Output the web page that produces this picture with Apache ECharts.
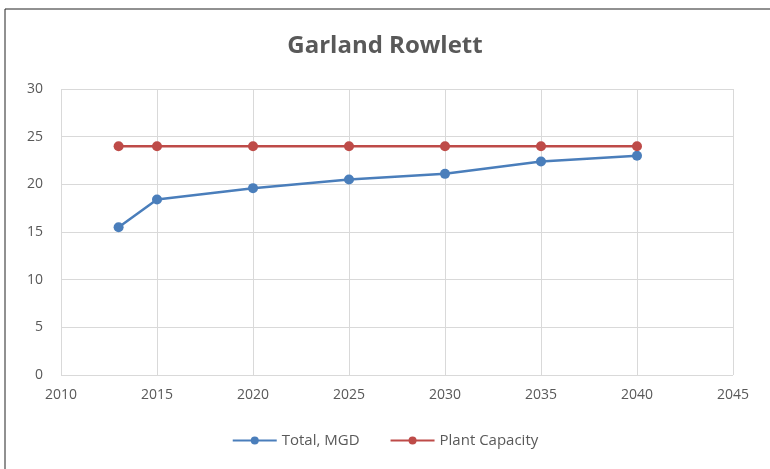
<!DOCTYPE html>
<html>
<head>
<meta charset="utf-8">
<script src="https://cdn.jsdelivr.net/npm/echarts@6/dist/echarts.min.js"></script>
<style>
  html, body { margin: 0; padding: 0; background: #ffffff; }
  #chart { width: 770px; height: 469px; }
</style>
</head>
<body>
<div id="chart"></div>
<script>
// Years and flows (million gallons per day)
const years = [2013, 2015, 2020, 2025, 2030, 2035, 2040];
const totalMGD = [15.5, 18.4, 19.6, 20.5, 21.1, 22.4, 23.0];
const plantCapacity = [24, 24, 24, 24, 24, 24, 24];
const seriesNames = ['Total, MGD', 'Plant Capacity'];
const chartTitle = 'Garland Rowlett';

const font = '"Open Sans", Lato, sans-serif';
const textColor = '#595959';
const gridColor = '#d9d9d9';

const chart = echarts.init(document.getElementById('chart'), null, { renderer: 'canvas' });

const pairs = (ys) => years.map((x, i) => [x, ys[i]]);

chart.setOption({
  animation: false,
  backgroundColor: '#ffffff',
  title: {
    text: chartTitle,
    left: 'center',
    top: 29,
    textStyle: { fontFamily: font, fontSize: 24, fontWeight: 'bold', color: textColor }
  },
  graphic: [{
    type: 'rect',
    shape: { x: 5, y: 9, width: 800, height: 500 },
    style: { fill: 'none', stroke: '#222222', lineWidth: 1 },
    silent: true
  }],
  grid: { left: 61, right: 37, top: 89, bottom: 94, containLabel: false },
  xAxis: {
    type: 'value',
    min: 2010, max: 2045, interval: 5,
    axisLine: { show: false },
    axisTick: { show: false },
    splitLine: { show: true, lineStyle: { color: gridColor, width: 1 } },
    axisLabel: {
      color: textColor, fontFamily: font, fontSize: 14, margin: 13,
      formatter: (v) => String(v)
    }
  },
  yAxis: {
    type: 'value',
    min: 0, max: 30, interval: 5,
    axisLine: { show: false },
    axisTick: { show: false },
    splitLine: { show: true, lineStyle: { color: gridColor, width: 1 } },
    axisLabel: { color: textColor, fontFamily: font, fontSize: 14, margin: 18 }
  },
  legend: {
    bottom: 16,
    left: 'center',
    itemGap: 30,
    itemWidth: 44,
    itemHeight: 10,
    textStyle: { color: textColor, fontFamily: font, fontSize: 15 },
    data: seriesNames
  },
  series: [
    {
      name: seriesNames[0],
      type: 'line',
      data: pairs(totalMGD),
      symbol: 'circle',
      symbolSize: 10,
      lineStyle: { color: '#4a7ebb', width: 2.5 },
      itemStyle: { color: '#4a7ebb' }
    },
    {
      name: seriesNames[1],
      type: 'line',
      data: pairs(plantCapacity),
      symbol: 'circle',
      symbolSize: 10,
      lineStyle: { color: '#be4b48', width: 2.5 },
      itemStyle: { color: '#be4b48' }
    }
  ]
});
</script>
</body>
</html>
